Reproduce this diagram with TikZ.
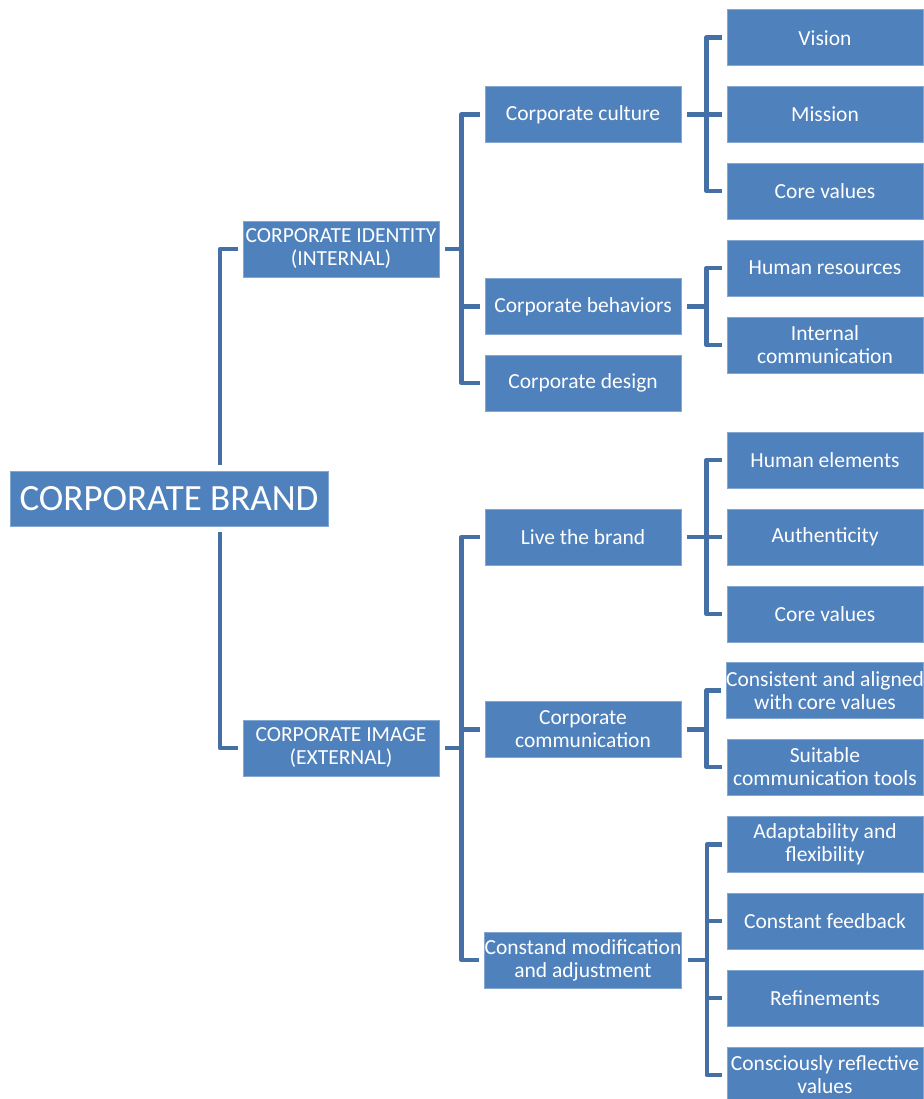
\documentclass[tikz,border=0pt]{standalone}
\usepackage{fontspec}
\setmainfont{Carlito}
\usepackage{tikz}

\definecolor{boxblue}{RGB}{79,129,189}
\definecolor{linkblue}{RGB}{68,112,165}

\tikzset{
    box/.style={fill=boxblue,draw=boxblue!70!white,line width=0.8pt,text=white,
        minimum width=196pt,minimum height=56pt,inner sep=0pt,align=center,
        font=\fontsize{21.5}{23}\selectfont},
    link/.style={draw=linkblue,line width=4.5pt,line join=round}
}

\begin{document}
\begin{tikzpicture}[x=1pt,y=-1pt]
            \useasboundingbox (0,0) rectangle (923,1099);
            \node[box,minimum width=318pt,minimum height=55pt,font=\fontsize{37}{40}\selectfont] (brand) at (169,498.5) {CORPORATE BRAND};
            \node[box] (ident) at (341,249) {CORPORATE IDENTITY\\(INTERNAL)};
            \node[box] (image) at (341,748) {CORPORATE IMAGE\\(EXTERNAL)};
            % second level
            \node[box] (culture) at (583,114.5) {Corporate culture};
            \node[box] (behav) at (583,306.5) {Corporate behaviors};
            \node[box] (design) at (583,383) {Corporate design};
            \node[box] (live) at (583,537) {Live the brand};
            \node[box] (comm) at (583,729.5) {Corporate\\communication};
            \node[box] (modif) at (583,960) {Constand modification\\and adjustment};
            % third level
            \node[box] (vision) at (825,37.7) {Vision};
            \node[box] (mission) at (825,114.5) {Mission};
            \node[box] (core) at (825,191) {Core values};
            \node[box] (human) at (825,268) {Human resources};
            \node[box] (intcomm) at (825,345) {Internal\\communication};
            \node[box] (elem) at (825,460) {Human elements};
            \node[box] (auth) at (825,537) {Authenticity};
            \node[box] (corelive) at (825,614) {Core values};
            \node[box] (consist) at (825,690.5) {Consistent and aligned\\with core values};
            \node[box] (tools) at (825,767) {Suitable\\communication tools};
            \node[box] (adapt) at (825,844.5) {Adaptability and\\flexibility};
            \node[box] (feedb) at (825,921) {Constant feedback};
            \node[box] (refine) at (825,998) {Refinements};
            \node[box] (reflect) at (825,1075) {Consciously reflective\\values};
            % connectors
            \draw[link] ([xshift=51pt,yshift=6pt]brand.north) |- ([xshift=-5pt]ident.west);
            \draw[link] ([xshift=51pt,yshift=-6pt]brand.south) |- ([xshift=-5pt]image.west);
            \foreach \a/\b in {ident/culture,ident/behav,ident/design,image/live,image/comm,image/modif}{
                \draw[link] ([xshift=6pt]\a.east) -- ++(16,0) |- ([xshift=-5pt]\b.west);
            }
            \foreach \a/\b in {culture/vision,culture/mission,culture/core,behav/human,behav/intcomm,
                live/elem,live/auth,live/corelive,comm/consist,comm/tools,
                modif/adapt,modif/feedb,modif/refine,modif/reflect}{
                \draw[link] ([xshift=6pt]\a.east) -- ++(19,0) |- ([xshift=-5pt]\b.west);
            }
        \end{tikzpicture}
\end{document}
